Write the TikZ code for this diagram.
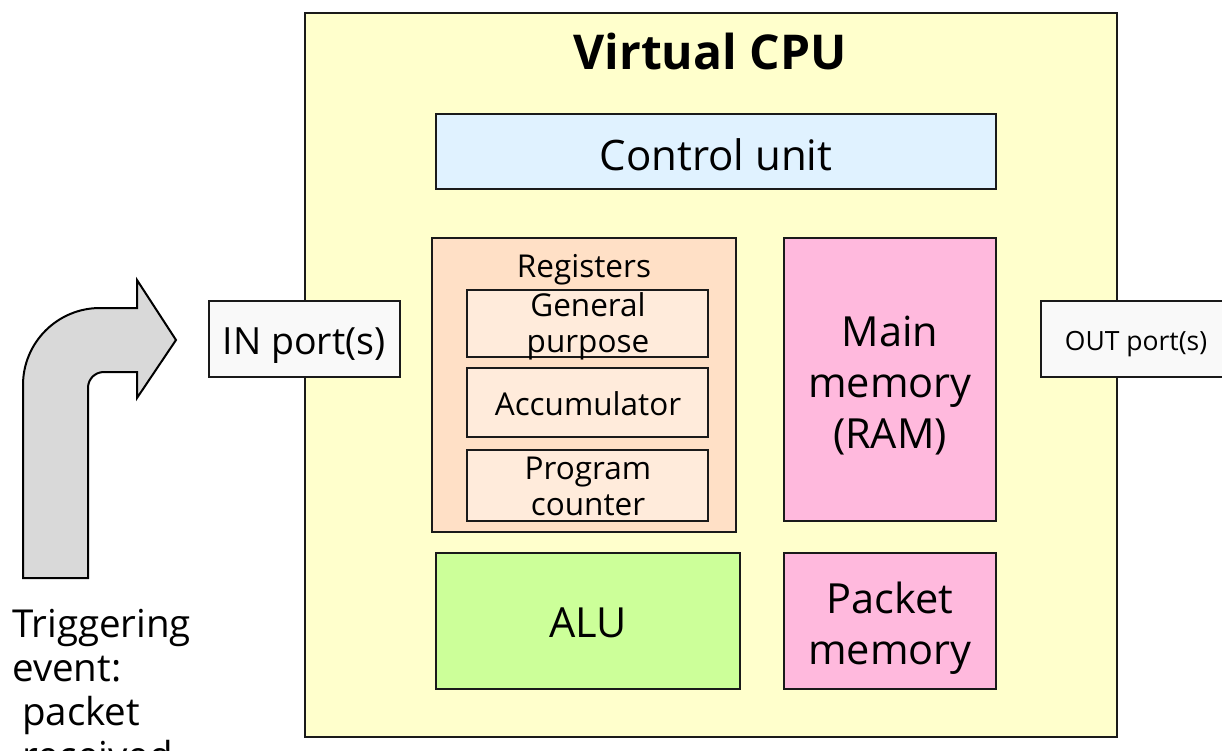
\documentclass[tikz,border=0pt]{standalone}
\usepackage{fontspec}
\setmainfont{Open Sans}
\definecolor{cpufill}{HTML}{FFFFCC}
\definecolor{ctrlfill}{HTML}{E0F2FF}
\definecolor{regfill}{HTML}{FFE0C6}
\definecolor{regin}{HTML}{FFEBDB}
\definecolor{memfill}{HTML}{FFB9DD}
\definecolor{alufill}{HTML}{CCFF99}
\definecolor{portfill}{HTML}{F9F9F9}
\definecolor{arrowfill}{HTML}{D9D9D9}
\definecolor{edge}{HTML}{1A1A1A}
\newcommand{\fsz}[2]{\fontsize{#1}{#2}\selectfont}
\begin{document}
\begin{tikzpicture}[x=1pt,y=-1pt,
  blk/.style={draw=edge,line width=2pt},
  lbl/.style={anchor=base,inner sep=0pt,align=center,text=black}]
\useasboundingbox (0,0) rectangle (1222,751);

% processor frame
\draw[blk,fill=cpufill] (305,13) rectangle (1117,737);
\node[lbl,font=\fsz{48}{58}\bfseries] (title) at (710,70) {Virtual CPU};

% control unit
\draw[blk,fill=ctrlfill] (436,114) rectangle (996,189);
\node[lbl,font=\fsz{42}{50}] (ctrl) at (716,171) {Control unit};

% register file
\draw[blk,fill=regfill] (432,238) rectangle (736,532);
\node[lbl,font=\fsz{31.5}{36}] (regs) at (584,277) {Registers};
\draw[blk,fill=regin] (467,290) rectangle (708,357);
\node[lbl,font=\fsz{31.5}{36}] (gp) at (588,352) {General\\purpose};
\draw[blk,fill=regin] (467,368) rectangle (708,437);
\node[lbl,font=\fsz{31.5}{36}] (acc) at (588,415) {Accumulator};
\draw[blk,fill=regin] (467,450) rectangle (708,521);
\node[lbl,font=\fsz{31.5}{36}] (pc) at (588,515) {Program\\counter};

% memories
\draw[blk,fill=memfill] (784,238) rectangle (996,521);
\node[lbl,font=\fsz{41.5}{51}] (ram) at (890,448) {Main\\memory\\(RAM)};
\draw[blk,fill=memfill] (784,553) rectangle (996,689);
\node[lbl,font=\fsz{41.5}{51}] (pktmem) at (890,664) {Packet\\memory};

% arithmetic unit
\draw[blk,fill=alufill] (436,553) rectangle (740,689);
\node[lbl,font=\fsz{41.5}{50}] (alu) at (588,637) {ALU};

% ports
\draw[blk,fill=portfill] (209,301) rectangle (400,377);
\node[lbl,font=\fsz{37.5}{44}] (inport) at (304,354) {IN port(s)};
\draw[blk,fill=portfill] (1041,301) rectangle (1232,377);
\node[lbl,font=\fsz{26.5}{32}] (outport) at (1136,350) {OUT port(s)};

% bent block arrow for the trigger
\draw[line width=2pt,draw=black,fill=arrowfill,line join=miter]
  (23,578) -- (23,385)
  .. controls (23,342.5) and (57.5,308) .. (100,308)
  -- (137,308) -- (137,280) -- (176,340) -- (137,398) -- (137,372)
  -- (104,372) .. controls (95,372) and (88,379) .. (88,388)
  -- (88,578) -- cycle;

\node[anchor=base west,inner sep=0pt,align=left,font=\fsz{38.5}{44}] (trig) at (12,769)
  {Triggering\\event:\\\ packet\\\ received};
\end{tikzpicture}
\end{document}
